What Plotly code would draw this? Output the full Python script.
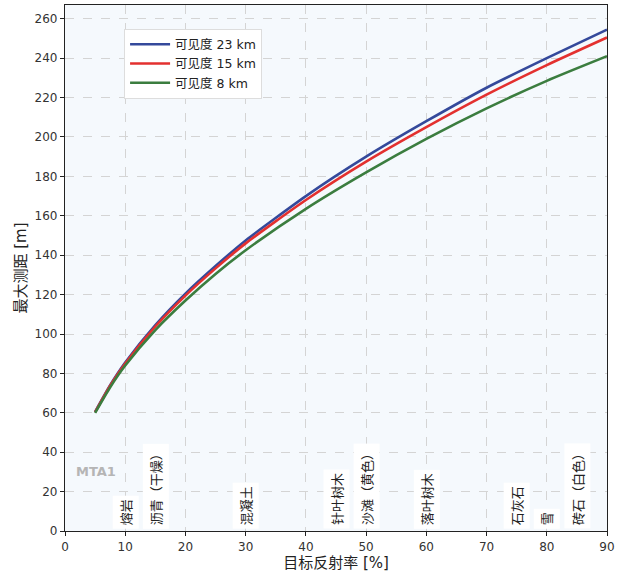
import plotly.graph_objects as go

reflectance = [5, 7.5, 10, 15, 20, 25, 30, 40, 50, 60, 70, 80, 90]
range_23km = [60.5, 74, 85.5, 104.5, 120.5, 134.5, 147.5, 170, 190, 208, 225, 240, 254.5]
range_15km = [60.3, 73.7, 85, 103.8, 119.5, 133.3, 146, 168, 187.5, 205, 221.5, 236.5, 250.5]
range_8km = [60, 73, 84, 102, 117, 130.5, 142.5, 163.5, 182, 199, 214.5, 228.5, 241]

series_names = ["可见度 23 km", "可见度 15 km", "可见度 8 km"]
series_colors = ["#34499b", "#e3302f", "#3b7d3f"]

materials = ["熔岩", "沥青（干燥）", "混凝土", "针叶树木", "沙滩（黄色）", "落叶树木", "石灰石", "雪", "砖石（白色）"]
material_x = [10, 15, 30, 45, 50, 60, 75, 80, 85]

FONT = "DejaVu Sans, Noto Sans CJK SC, sans-serif"
CJK = "Noto Sans CJK SC, DejaVu Sans, sans-serif"

fig = go.Figure()
for name, ys, c in zip(series_names, [range_23km, range_15km, range_8km], series_colors):
    fig.add_trace(go.Scatter(x=reflectance, y=ys, mode="lines", name=name,
                             line=dict(color=c, width=2.6, shape="spline", smoothing=0.6)))

for m, x in zip(materials, material_x):
    fig.add_annotation(x=x, y=0, xref="x", yref="y", text=m, textangle=-90,
                       showarrow=False, xanchor="center", yanchor="bottom", yshift=2,
                       bgcolor="white", borderpad=3,
                       font=dict(family=CJK, size=13, color="#222"))

fig.add_annotation(x=1.5, y=30, xref="x", yref="y", text="<b>MTA1</b>", showarrow=False,
                   xanchor="left", yanchor="middle",
                   font=dict(family=FONT, size=13, color="#b5b5b5"))

axis_common = dict(showline=True, linecolor="#222", linewidth=1.2, mirror=True,
                   ticks="outside", ticklen=4, tickcolor="#222", automargin=False,
                   showgrid=True, gridcolor="#d4d4d4", griddash="dash", gridwidth=1,
                   zeroline=False, tickfont=dict(family=FONT, size=12, color="#333"))

fig.update_layout(
    width=620, height=578,
    margin=dict(l=65, r=13, t=5, b=47),
    paper_bgcolor="white", plot_bgcolor="#f5f9fd",
    font=dict(family=FONT, size=12, color="#222"),
    xaxis=dict(range=[0, 90], dtick=10,
               title=dict(text="目标反射率 [%]", font=dict(family=FONT, size=15, color="#222"), standoff=2),
               **axis_common),
    yaxis=dict(range=[0, 267], dtick=20,
               title=dict(text="最大测距 [m]", font=dict(family=FONT, size=15, color="#222"), standoff=4),
               **axis_common),
    legend=dict(x=0.109, y=0.955, xanchor="left", yanchor="top",
                bgcolor="white", bordercolor="#dddddd", borderwidth=1,
                font=dict(family=FONT, size=12.5, color="#222"), itemwidth=40,
                tracegroupgap=0),
    showlegend=True,
)

fig.write_html("out.html", config={"displayModeBar": False},
               post_script="document.body.style.margin='0';document.body.style.overflow='hidden';")
